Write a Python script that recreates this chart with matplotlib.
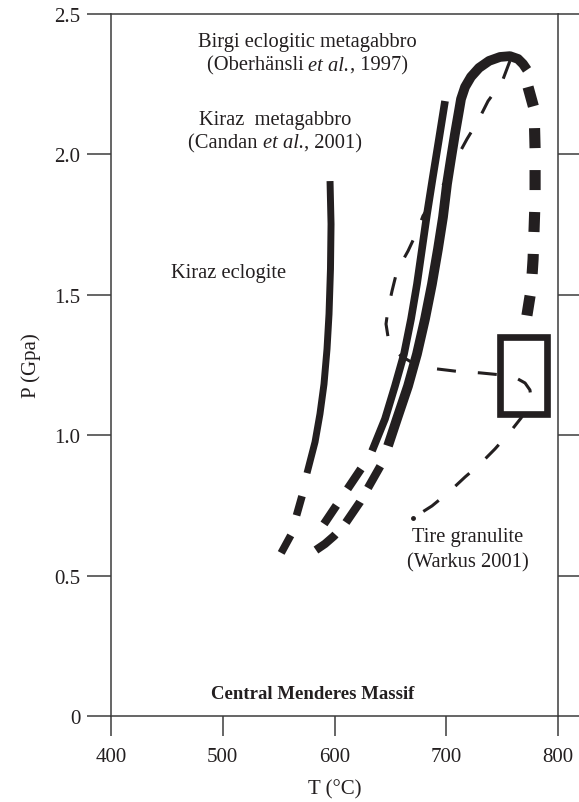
import matplotlib
matplotlib.use('Agg')
import matplotlib.pyplot as plt
from matplotlib.patches import Rectangle

plt.rcParams['font.family'] = ['Liberation Serif', 'DejaVu Serif']
plt.rcParams['lines.scale_dashes'] = False

# ---------------- data ----------------
x_ticks = [400, 500, 600, 700, 800]
y_ticks = [0, 0.5, 1.0, 1.5, 2.0, 2.5]
y_tick_labels = ['0', '0.5', '1.0', '1.5', '2.0', '2.5']

# Kiraz eclogite (solid, then dashed extrapolation)
kiraz_ecl_T = [596.0, 596.9, 596.4, 595.1, 593.3, 590.6, 587.0, 582.6, 575.4]
kiraz_ecl_P = [1.905, 1.752, 1.592, 1.432, 1.307, 1.182, 1.076, 0.976, 0.865]
kiraz_ecl_dash_T = [570.9, 561.1, 550.3]
kiraz_ecl_dash_P = [0.783, 0.645, 0.566]

# Kiraz metagabbro (Candan et al., 2001)
kiraz_mg_T = [698.9, 693.5, 687.7, 682.8, 678.3, 673.8, 668.5, 662.2, 654.1,
              645.2, 633.6]
kiraz_mg_P = [2.190, 2.055, 1.912, 1.788, 1.663, 1.538, 1.414, 1.289, 1.175,
              1.058, 0.944]
kiraz_mg_dash_T = [623.7, 590.6]
kiraz_mg_dash_P = [0.880, 0.684]

# Birgi eclogitic metagabbro (Oberhaensli et al., 1997)
birgi_pro_dash_T = [583.4, 591.5, 599.6, 609.4, 622.8, 641.6]
birgi_pro_dash_P = [0.591, 0.613, 0.641, 0.684, 0.762, 0.894]
birgi_T = [647.9, 655.9, 665.8, 673.8, 681.0, 687.2, 692.6, 697.1, 700.7,
           704.2, 707.8, 711.4, 713.2, 716.8, 722.1, 729.3, 738.3, 748.1,
           757.0, 764.2, 768.7, 772.3]
birgi_P = [0.962, 1.058, 1.175, 1.289, 1.414, 1.538, 1.663, 1.777, 1.895,
           1.984, 2.073, 2.155, 2.197, 2.240, 2.276, 2.308, 2.333, 2.347,
           2.350, 2.340, 2.322, 2.301]
birgi_retro_T = [773.2, 778.6, 779.5, 779.5, 777.7, 776.0, 771.4]
birgi_retro_P = [2.240, 2.162, 2.019, 1.841, 1.627, 1.521, 1.407]

# Tire granulite (Warkus 2001) path
tire_T = [757.0, 749.9, 737.4, 728.4, 718.6, 712.3, 700.7, 691.7, 679.2, 673.8,
          665.8, 655.9, 651.5, 647.9, 646.1, 647.9, 652.3, 659.5, 668.5, 679.2,
          691.7, 710.5, 730.2, 750.8, 762.4, 770.5, 774.9, 775.8, 773.2, 766.9,
          757.0, 743.6, 730.2, 716.8, 703.4, 687.2, 670.2]
tire_P = [2.333, 2.258, 2.190, 2.119, 2.055, 2.009, 1.912, 1.859, 1.781, 1.724,
          1.656, 1.585, 1.514, 1.449, 1.396, 1.350, 1.311, 1.282, 1.261, 1.246,
          1.236, 1.227, 1.222, 1.214, 1.204, 1.186, 1.161, 1.133, 1.100, 1.061,
          1.011, 0.951, 0.897, 0.851, 0.801, 0.748, 0.705]

# Tire granulite peak box
box_T = [748.1, 789.9]
box_P = [1.075, 1.349]

# ---------------- figure ----------------
ink = '#231f20'
axc = '#3c3c3c'
fs = 14.8
tfs = 15

fig = plt.figure(figsize=(5.79, 8.03), dpi=100)
ax = fig.add_axes([111 / 579, 86 / 803, 447 / 579, 702 / 803])
ax.set_xlim(400, 800)
ax.set_ylim(0, 2.5)

for s in ax.spines.values():
    s.set_color(axc)
    s.set_linewidth(1.1)

ax.set_xticks(x_ticks)
ax.set_yticks(y_ticks)
ax.set_yticklabels(y_tick_labels)
ax.tick_params(axis='y', direction='out', length=17, width=1.1, color=axc,
               left=True, right=True, labelleft=True, labelright=False,
               labelsize=tfs, pad=5, labelcolor=ink)
ax.tick_params(axis='x', direction='out', length=14.5, width=1.1, color=axc,
               bottom=True, top=False, labelsize=tfs, pad=8,
               labelcolor=ink)

ax.set_xlabel('T (°C)', fontsize=tfs, color=ink)
ax.set_ylabel('P (Gpa)', fontsize=tfs, color=ink)
ax.xaxis.set_label_coords(0.5, -0.090)
ax.yaxis.set_label_coords(-0.157, 0.5)

# Kiraz eclogite
ax.plot(kiraz_ecl_T, kiraz_ecl_P, color=ink, lw=5.0, solid_capstyle='butt',
        solid_joinstyle='round')
ax.plot(kiraz_ecl_dash_T, kiraz_ecl_dash_P, color=ink, lw=5.5,
        dashes=(14.4, 15.0), dash_capstyle='butt')

# Kiraz metagabbro
ax.plot(kiraz_mg_T, kiraz_mg_P, color=ink, lw=5.5, solid_capstyle='butt',
        solid_joinstyle='round')
ax.plot(kiraz_mg_dash_T, kiraz_mg_dash_P, color=ink, lw=6.0,
        dashes=(17.3, 14.4), dash_capstyle='butt')

# Birgi
ax.plot(birgi_pro_dash_T, birgi_pro_dash_P, color=ink, lw=6.0,
        dashes=(18.0, 11.5), dash_capstyle='butt')
ax.plot(birgi_T, birgi_P, color=ink, lw=7.0, solid_capstyle='butt',
        solid_joinstyle='round')
ax.plot(birgi_retro_T, birgi_retro_P, color=ink, lw=8.0,
        dashes=(14.4, 15.8), dash_capstyle='butt')

# Tire granulite
ax.plot(tire_T, tire_P, color=ink, lw=2.2, dashes=(13.7, 15.8),
        dash_capstyle='butt', dash_joinstyle='round')
ax.plot(tire_T[-1:], tire_P[-1:], 'o', color=ink, ms=2.5)

ax.add_patch(Rectangle((box_T[0], box_P[0]), box_T[1] - box_T[0],
                       box_P[1] - box_P[0], fill=False, edgecolor=ink,
                       lw=4.8, joinstyle='miter'))


# ---------------- labels ----------------
def mixed_text(x, y, parts, size, weight='normal'):
    """Place a run of (string, style) pieces centred at data (x, y) baseline."""
    texts = [ax.text(x, y, s, fontsize=size, style=st, weight=weight,
                     ha='left', va='baseline', color=ink) for s, st in parts]
    fig.canvas.draw()
    r = fig.canvas.get_renderer()
    widths = [t.get_window_extent(r).width for t in texts]
    x0, y0 = ax.transData.transform((x, y))
    cur = x0 - sum(widths) / 2
    inv = ax.transData.inverted()
    for t, w in zip(texts, widths):
        t.set_position(inv.transform((cur, y0)))
        cur += w


mixed_text(575.4, 2.386, [('Birgi eclogitic metagabbro', 'normal')], fs)
mixed_text(575.4, 2.301, [('(Oberhänsli ', 'normal'), ('et al.', 'italic'),
                          (', 1997)', 'normal')], fs)
mixed_text(546.8, 2.108, [('Kiraz  metagabbro', 'normal')], fs)
mixed_text(546.8, 2.026, [('(Candan ', 'normal'), ('et al.', 'italic'),
                          (', 2001)', 'normal')], fs)
mixed_text(505.1, 1.563, [('Kiraz eclogite', 'normal')], fs)
mixed_text(719.0, 0.623, [('Tire granulite', 'normal')], fs)
mixed_text(719.5, 0.534, [('(Warkus 2001)', 'normal')], fs)
mixed_text(580.3, 0.064, [('Central Menderes Massif', 'normal')], 13.5,
           weight='bold')

fig.savefig('out.png', dpi=100)
